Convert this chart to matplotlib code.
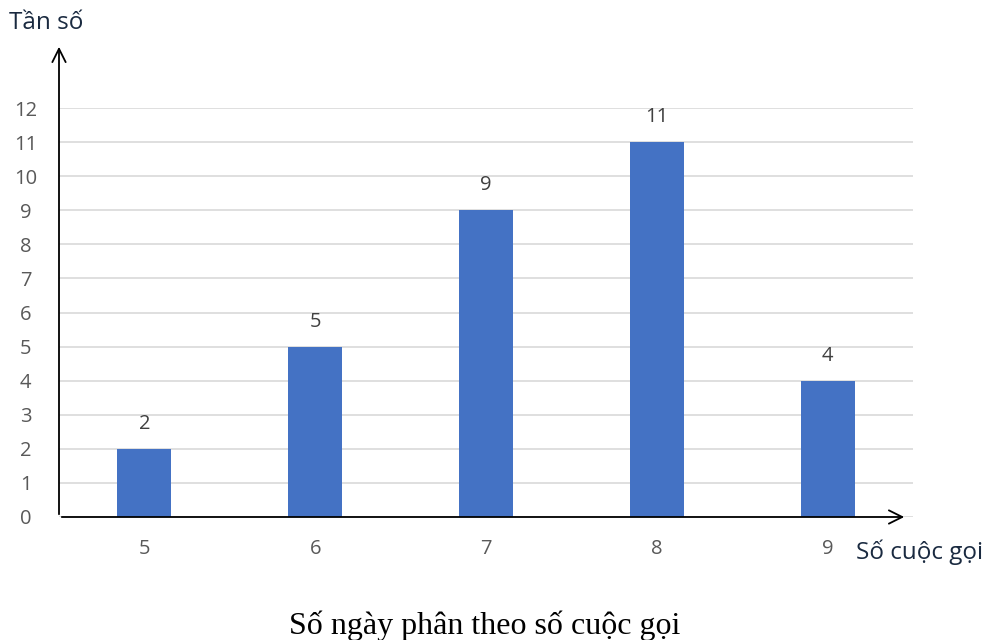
import matplotlib.pyplot as plt

# ---------- DATA ----------
calls = ['5', '6', '7', '8', '9']
days = [2, 5, 9, 11, 4]
y_ticks = list(range(0, 13))

# ---------- FIGURE ----------
W, H = 988, 640
fig = plt.figure(figsize=(W / 100, H / 100), dpi=100)
plt.rcParams['font.family'] = ['Open Sans', 'DejaVu Sans']

x0, y0, x1, y12 = 59, 517, 913, 108
ax = fig.add_axes([x0 / W, 1 - y0 / H, (x1 - x0) / W, (y0 - y12) / H])

pos = range(len(calls))
ax.bar(pos, days, width=0.315, color='#4472C4', zorder=3)
for p, v in zip(pos, days):
    ax.annotate(str(v), (p, v), xytext=(0, 18), textcoords='offset points',
                ha='center', va='center', fontsize=14.5, color='#404040')

ax.set_xlim(-0.5, len(calls) - 0.5)
ax.set_ylim(0, 12)
ax.set_yticks(y_ticks)
ax.set_xticks(list(pos))
ax.set_xticklabels(calls)
ax.tick_params(axis='both', length=0, labelsize=14.5, labelcolor='#595959')
ax.tick_params(axis='x', pad=16)
ax.tick_params(axis='y', pad=24)
for lab in ax.get_yticklabels():
    lab.set_horizontalalignment('center')
ax.grid(axis='y', color='#d9d9d9', linewidth=1.2, zorder=0)
for s in ax.spines.values():
    s.set_visible(False)

# axis arrows
arrow = dict(arrowstyle='->', color='black', lw=1.3, mutation_scale=24)
fig.add_artist(plt.matplotlib.patches.FancyArrowPatch(
    (x0 / W, 1 - y0 / H), (x0 / W, 1 - 44 / H), transform=fig.transFigure, **arrow))
fig.add_artist(plt.matplotlib.patches.FancyArrowPatch(
    (x0 / W, 1 - y0 / H), (907 / W, 1 - y0 / H), transform=fig.transFigure, **arrow))

fig.text(9 / W, 1 - 23 / H, 'Tần số', fontsize=17.5, color='#1a2a40', va='center', ha='left')
fig.text(983 / W, 1 - 552 / H, 'Số cuộc gọi', fontsize=17.5, color='#1a2a40', va='center', ha='right')
fig.text(485 / W, 1 - 626 / H, 'Số ngày phân theo số cuộc gọi', fontsize=23,
         family='Liberation Serif', ha='center', va='center', color='black')

fig.savefig('out.png', dpi=100)
